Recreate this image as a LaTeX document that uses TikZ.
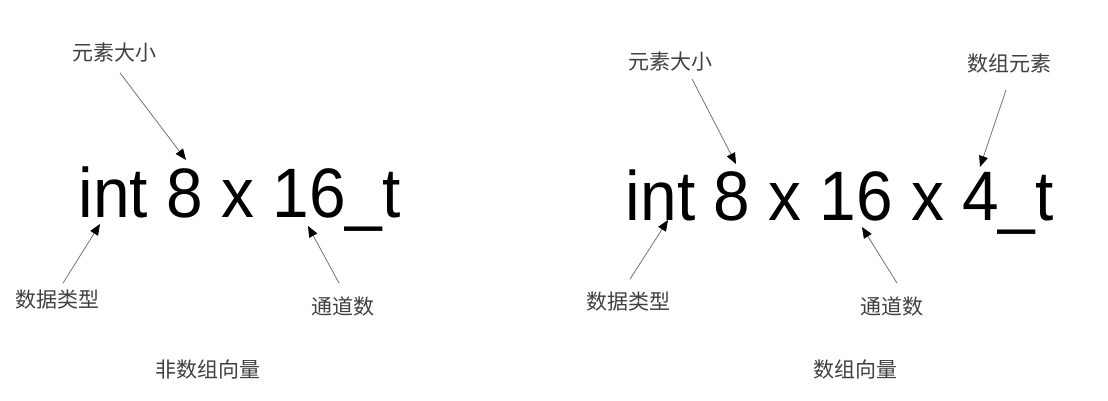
\documentclass[tikz,border=0pt]{standalone}
\usepackage{fontspec}
\setmainfont{Liberation Sans}
\newfontfamily\cjk{Noto Sans CJK SC}
\newfontfamily\vecfont[FakeStretch=0.94]{Liberation Sans}
\usetikzlibrary{arrows.meta}
\begin{document}
\begin{tikzpicture}[x=1pt,y=-1pt,
  lbl/.style={inner sep=0pt,font=\cjk\fontsize{21}{21}\selectfont,text=black!75},
  vec/.style={inner sep=0pt,anchor=base west,font=\vecfont\fontsize{70}{70}\selectfont},
  ptr/.style={draw=black!55,line width=0.8pt,-{Triangle[length=11pt,width=9pt,black]}}]
\useasboundingbox(0,0)rectangle(1108,401);
\node[vec](vec1)at(78.6,217){int 8 x 16\_t};
\node[lbl](sz1)at(114,53){元素大小};
\node[lbl](lx1)at(58,300){数据类型};
\node[lbl](td1)at(343,307){通道数};
\node[lbl](cap1)at(208,370){非数组向量};
\coordinate(szt1)at(186,160);
\coordinate(lxt1)at(100,224);
\coordinate(tdt1)at(308,226);
\draw[ptr]([xshift=6pt,yshift=-10pt]sz1.south)--(szt1);
\draw[ptr]([xshift=5pt,yshift=7pt]lx1.north)--(lxt1);
\draw[ptr]([xshift=-4pt,yshift=14pt]td1.north)--(tdt1);
\node[vec](vec2)at(625.6,220){int 8 x 16 x 4\_t};
\node[lbl](sz2)at(670,62){元素大小};
\node[lbl](yz2)at(1009,64){数组元素};
\node[lbl](lx2)at(628,302){数据类型};
\node[lbl](td2)at(892,307){通道数};
\node[lbl](cap2)at(855,370){数组向量};
\coordinate(szt2)at(736,164);
\coordinate(yzt2)at(980,167);
\coordinate(lxt2)at(668,220);
\coordinate(tdt2)at(862,227);
\draw[ptr]([xshift=22pt,yshift=-7pt]sz2.south)--(szt2);
\draw[ptr]([xshift=-3pt,yshift=-16pt]yz2.south)--(yzt2);
\draw[ptr]([xshift=2pt,yshift=13pt]lx2.north)--(lxt2);
\draw[ptr]([xshift=5pt,yshift=14pt]td2.north)--(tdt2);
\end{tikzpicture}
\end{document}
